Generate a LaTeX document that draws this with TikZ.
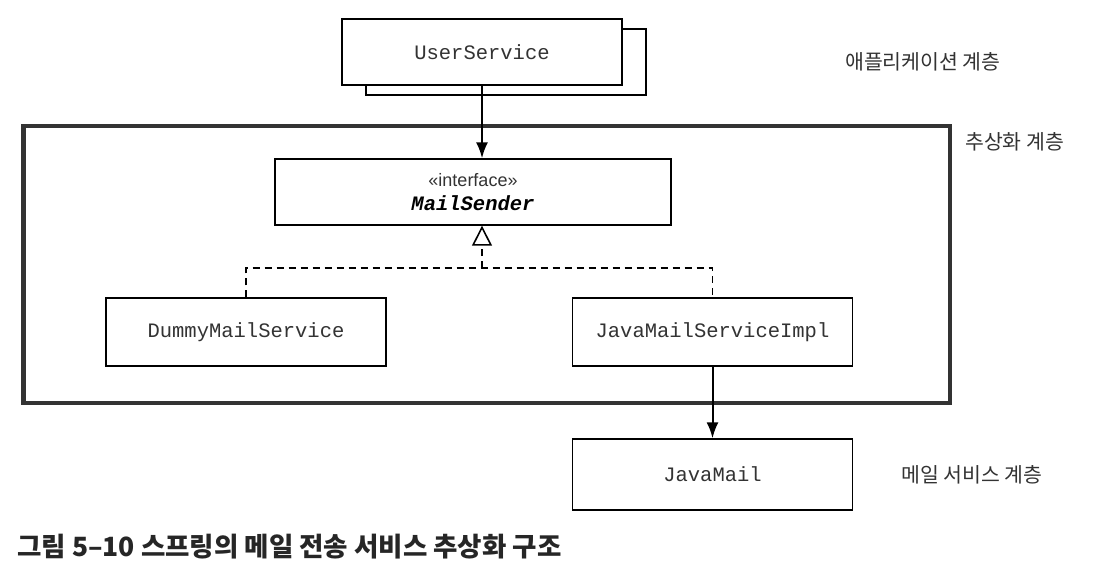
\documentclass[tikz,border=0pt]{standalone}
\usepackage{fontspec}
\setmainfont{Liberation Sans}
\setsansfont{Liberation Sans}
\setmonofont{Liberation Mono}
\newfontfamily\cjk{Noto Sans CJK KR}
\usetikzlibrary{shadows,arrows.meta,positioning}
\tikzstyle{classblock} = [draw, line width=1.4pt, fill=white, text=black!80, text centered, minimum width=280pt, minimum height=68pt, font=\ttfamily\fontsize{20.5}{25}\selectfont]
\tikzstyle{stackblock} = [classblock, minimum height=66pt, general shadow={shadow xshift=24pt, shadow yshift=-10pt, draw, line width=1.4pt, fill=white}]
\tikzstyle{layerframe} = [draw, line width=4.5pt, color=black!80, minimum width=926.5pt, minimum height=276.5pt]
\tikzstyle{layerlabel} = [anchor=west, inner sep=0pt, color=black!80, font=\cjk\fontsize{20.5}{22}\selectfont]
\tikzstyle{arrow} = [draw, line width=2pt, -{Latex[length=16pt,width=12pt]}]
\tikzstyle{realize} = [draw, line width=1.3pt, dash pattern=on 7pt off 5pt]
\tikzstyle{realizehead} = [realize, -{Triangle[open,length=20pt,width=20pt,line width=1.6pt]}]
\newcommand{\classblock}[2]{node (#1) [classblock] {#2}}

\begin{document}
\begin{tikzpicture}[x=1pt,y=1pt]
\useasboundingbox (0,0) rectangle (1094,-583);
\node (layer) [layerframe] at (486.5,-264.5) {};
\node (us) [stackblock] at (482,-52) {UserService};
\path (us)+(-9,-140) node (ms) [classblock, minimum width=396pt, minimum height=66pt, align=center]
  {\sffamily\fontsize{18}{25}\selectfont «interface»\\[-1pt]\ttfamily\bfseries\itshape\color{black} MailSender};
\path (ms)+(-227,-140) \classblock{dm}{DummyMailService};
\path (ms)+(239.5,-140) \classblock{im}{JavaMailServiceImpl};
\path (im)+(0,-142.5) node (jm) [classblock, minimum height=71pt] {JavaMail};

\node (applabel) [layerlabel] at (845,-62) {애플리케이션 계층};
\node (abstrlabel) [layerlabel] at (965,-142) {추상화 계층};
\node (maillabel) [layerlabel] at (901,-475) {메일 서비스 계층};
\node (caption) [anchor=west, inner sep=0pt, color=black!85, font=\cjk\bfseries\fontsize{26.5}{28}\selectfont] at (17,-547)
  {그림 5–10 스프링의 메일 전송 서비스 추상화 구조};

\coordinate (split) at (482,-268);
\path [arrow] (us.south) -- (us.south |- ms.north);
\path [realize] (dm.north) |- (split) -| (im.north);
\path [realizehead] (split) -- (split |- ms.south);
\path [arrow] (im.south) -- (jm.north);
\end{tikzpicture}
\end{document}
